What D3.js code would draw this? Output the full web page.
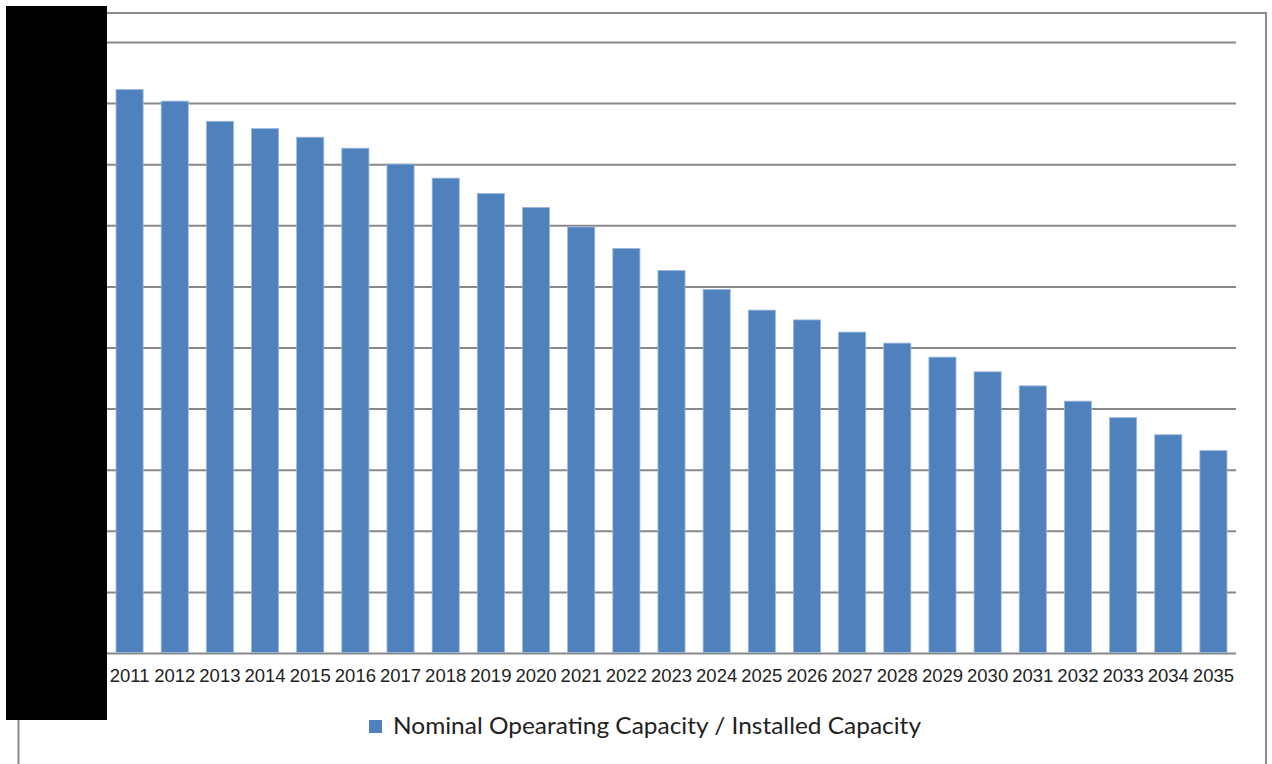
<!DOCTYPE html>
<meta charset="utf-8">
<style>
  body { margin: 0; background: #fff; }
</style>
<div id="chart"></div>
<script src="https://d3js.org/d3.v7.min.js"></script>
<script>
    // years and ratio values (y axis is hidden in the source, read as 0..1)
    var years = ["2011","2012","2013","2014","2015","2016","2017","2018","2019","2020","2021","2022","2023","2024","2025","2026","2027","2028","2029","2030","2031","2032","2033","2034","2035"];
    var ratio = [0.923,0.904,0.871,0.859,0.845,0.827,0.801,0.778,0.753,0.730,0.698,0.663,0.627,0.596,0.562,0.546,0.526,0.508,0.485,0.461,0.438,0.413,0.386,0.358,0.332];
    var yTicks = [0,0.1,0.2,0.3,0.4,0.5,0.6,0.7,0.8,0.9,1.0];
    var seriesName = "Nominal Opearating Capacity / Installed Capacity";

    var W = 1272, H = 764;
    var margin = {top: 42.5, right: 36, bottom: 110.5, left: 107},
        width = W - margin.left - margin.right,
        height = H - margin.top - margin.bottom;

    var svg = d3.select("#chart").append("svg").attr("width", W).attr("height", H);

    // outer chart frame
    svg.append("rect")
        .attr("x", 18.5).attr("y", 13)
        .attr("width", 1247.5).attr("height", 800)
        .attr("fill", "none").attr("stroke", "#8c8c8c").attr("stroke-width", 2);

    var g = svg.append("g").attr("transform", "translate(" + margin.left + "," + margin.top + ")");

    var x = d3.scaleBand().domain(years).range([0, width]).paddingInner(0.4).paddingOuter(0.2);
    var y = d3.scaleLinear().domain([0, 1]).range([height, 0]);

    // gridlines
    g.selectAll(".grid")
        .data(yTicks)
        .enter().append("line")
        .attr("x1", 0).attr("x2", width)
        .attr("y1", function(d) { return y(d); })
        .attr("y2", function(d) { return y(d); })
        .attr("stroke", "#888").attr("stroke-width", 2);

    // bars
    g.selectAll(".bar")
        .data(ratio)
        .enter().append("rect")
        .attr("x", function(d, i) { return x(years[i]); })
        .attr("width", x.bandwidth())
        .attr("y", function(d) { return y(d); })
        .attr("height", function(d) { return height - y(d) - 1; })
        .attr("fill", "#4f81bd")
        .attr("stroke", "#9bb7dc").attr("stroke-width", 0.8);

    // x axis labels
    var xAxis = g.append("g")
        .attr("transform", "translate(0," + height + ")")
        .call(d3.axisBottom(x).tickSize(0).tickPadding(15));
    xAxis.select(".domain").remove();
    xAxis.selectAll("text")
        .attr("font-family", "Liberation Sans, Arial, sans-serif")
        .attr("font-size", 18.5)
        .attr("fill", "#222");

    // legend
    var leg = svg.append("g").attr("transform", "translate(369,720)");
    leg.append("rect").attr("width", 13).attr("height", 13).attr("fill", "#4f81bd");
    leg.append("text")
        .attr("x", 24).attr("y", 14)
        .attr("font-family", "Lato, Carlito, sans-serif")
        .attr("font-size", 23)
        .attr("fill", "#222")
        .attr("textLength", 528)
        .attr("lengthAdjust", "spacingAndGlyphs")
        .text(seriesName);

    // redaction block over the y axis labels
    svg.append("rect")
        .attr("x", 6).attr("y", 6).attr("width", 101).attr("height", 714)
        .attr("fill", "#000");
</script>
